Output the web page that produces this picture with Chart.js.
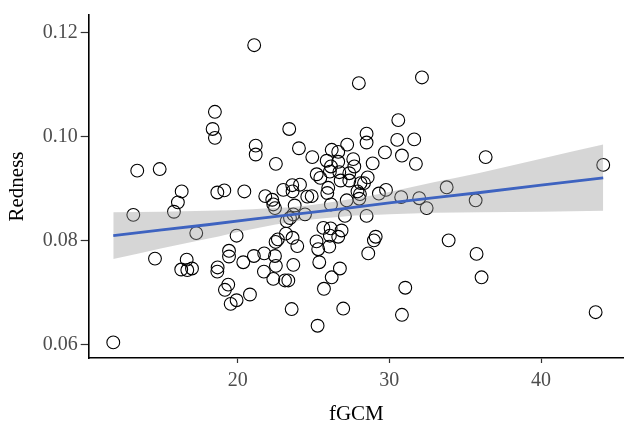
<!DOCTYPE html>
<html>
<head>
<meta charset="utf-8">
<script src="https://cdn.jsdelivr.net/npm/chart.js@4"></script>
<style>
  html, body { margin: 0; padding: 0; background: #fff; overflow: hidden; }
  #wrap { width: 624px; height: 425px; position: relative; }
</style>
</head>
<body>
<div id="wrap"><canvas id="chart"></canvas></div>
<script>
'use strict';

/* ----------------------------------------------------------
   DATA
   ---------------------------------------------------------- */
const fgcm = [
  11.8, 13.12, 13.38, 14.55, 14.86, 15.80, 16.06, 16.31, 16.64, 16.28,
  16.68, 16.99, 17.27, 18.50, 18.35, 18.50, 18.66, 19.12, 18.68, 18.66,
  19.43, 19.43, 19.38, 19.16, 19.54, 19.93, 19.93, 20.37, 20.44, 20.81,
  21.09, 21.19, 21.19, 21.07, 21.75, 21.73, 21.82, 22.52, 22.28, 22.35,
  22.46, 22.46, 22.52, 22.35, 22.50, 22.65, 23.01, 23.40, 23.12, 23.34,
  23.18, 23.23, 23.45, 23.56, 23.60, 23.62, 23.62, 23.67, 23.76, 23.67,
  23.93, 24.04, 24.11, 24.44, 24.59, 24.92, 25.21, 25.45, 25.27, 25.20,
  25.31, 25.38, 25.69, 25.65, 25.87, 25.97, 25.91, 26.08, 26.15, 26.15,
  26.20, 26.63, 26.63, 26.70, 26.79, 26.13, 26.08, 26.04, 26.20, 26.74,
  26.96, 26.85, 26.63, 27.19, 27.07, 27.22, 27.36, 27.36, 27.62, 27.69,
  27.90, 28.06, 28.02, 27.99, 28.10, 28.33, 28.50, 28.50, 28.57, 28.50,
  28.61, 28.98, 29.10, 28.90, 29.31, 29.71, 29.78, 30.52, 30.59, 30.83,
  30.78, 31.05, 30.83, 31.64, 31.75, 31.97, 32.15, 32.46, 33.78, 33.91,
  35.69, 35.75, 36.08, 36.35, 43.60, 44.10, 24.88
];
const redness = [
  0.0605, 0.0850, 0.0935, 0.0766, 0.0938, 0.0856, 0.0874, 0.0895, 0.0764, 0.0745,
  0.0744, 0.0747, 0.0815, 0.1048, 0.1015, 0.0998, 0.0893, 0.0897, 0.0749, 0.0741,
  0.0781, 0.0770, 0.0716, 0.0706, 0.0679, 0.0686, 0.0810, 0.0759, 0.0895, 0.0697,
  0.1176, 0.0983, 0.0966, 0.0771, 0.0776, 0.0741, 0.0886, 0.0948, 0.0879, 0.0870,
  0.0863, 0.0771, 0.0752, 0.0727, 0.0798, 0.0803, 0.0898, 0.1015, 0.0724, 0.0724,
  0.0814, 0.0838, 0.0844, 0.0669, 0.0907, 0.0895, 0.0806, 0.0754, 0.0868, 0.0851,
  0.0790, 0.0978, 0.0908, 0.0851, 0.0885, 0.0961, 0.0928, 0.0921, 0.0637, 0.0799,
  0.0784, 0.0759, 0.0708, 0.0825, 0.0954, 0.0902, 0.0892, 0.0933, 0.0943, 0.0870,
  0.0975, 0.0971, 0.0952, 0.0932, 0.0916, 0.0824, 0.0810, 0.0789, 0.0730, 0.0747,
  0.0670, 0.0820, 0.0808, 0.0878, 0.0848, 0.0985, 0.0930, 0.0916, 0.0957, 0.0943,
  0.0895, 0.0890, 0.0881, 0.1103, 0.0911, 0.0911, 0.1006, 0.0989, 0.0922, 0.0848,
  0.0776, 0.0801, 0.0808, 0.0949, 0.0891, 0.0970, 0.0898, 0.0994, 0.1032, 0.0964,
  0.0884, 0.0710, 0.0658, 0.0995, 0.0948, 0.0882, 0.1114, 0.0863, 0.0903, 0.0801,
  0.0878, 0.0775, 0.0730, 0.0961, 0.0663, 0.0946, 0.0886
];

// fitted line and its confidence band
const fitX      = [11.8, 15, 18, 21, 24, 27, 30, 33, 36, 40, 44.1];
const fitY      = [0.0810, 0.0821, 0.0831, 0.0842, 0.0852, 0.0862, 0.0873, 0.0883, 0.0893, 0.0907, 0.0921];
const bandUpper = [0.0855, 0.0856, 0.0858, 0.0861, 0.0866, 0.0878, 0.0894, 0.0913, 0.0931, 0.0958, 0.0985];
const bandLower = [0.0765, 0.0786, 0.0804, 0.0823, 0.0838, 0.0847, 0.0851, 0.0854, 0.0855, 0.0856, 0.0858];

const xTicks = [20, 30, 40];
const yTicks = [0.06, 0.08, 0.10, 0.12];

/* ----------------------------------------------------------
   HELPERS
   ---------------------------------------------------------- */
const toPoints = (xs, ys) => xs.map((x, i) => ({ x, y: ys[i] }));

const SERIF = "'Liberation Serif', 'DejaVu Serif', serif";
const tickFont  = { family: SERIF, size: 20 };
const titleFont = { family: SERIF, size: 21, lineHeight: 1.0 };

/* ----------------------------------------------------------
   CHART
   ---------------------------------------------------------- */
const ctx = document.getElementById('chart').getContext('2d');

new Chart(ctx, {
  type: 'scatter',
  data: {
    datasets: [
      {
        // regression line, on top
        type: 'line',
        data: toPoints(fitX, fitY),
        borderColor: '#3e63c0',
        borderWidth: 2.8,
        pointRadius: 0,
        fill: false,
        order: 0,
      },
      {
        type: 'line',
        data: toPoints(fitX, bandUpper),
        borderWidth: 0,
        pointRadius: 0,
        cubicInterpolationMode: 'monotone',
        backgroundColor: 'rgba(153,153,153,0.4)',
        fill: '+1',
        order: 1,
      },
      {
        type: 'line',
        data: toPoints(fitX, bandLower),
        borderWidth: 0,
        pointRadius: 0,
        cubicInterpolationMode: 'monotone',
        fill: false,
        order: 1,
      },
      {
        data: toPoints(fgcm, redness),
        pointRadius: 6.4,
        pointBorderWidth: 1.1,
        pointBorderColor: '#000',
        pointBackgroundColor: 'rgba(0,0,0,0)',
        order: 2,
      },
    ]
  },
  options: {
    responsive: true,
    maintainAspectRatio: false,
    animation: false,
    layout: { autoPadding: false, padding: { top: 12, right: 0, bottom: 0, left: 0 } },
    plugins: {
      legend: { display: false },
      tooltip: { enabled: false },
    },
    scales: {
      x: {
        type: 'linear',
        min: 10.18,
        max: 45.47,
        afterBuildTicks: s => { s.ticks = xTicks.map(v => ({ value: v })); },
        afterFit: s => { s.height = 67; },
        ticks: { font: tickFont, color: '#4d4d4d', padding: 6 },
        grid: { display: true, drawOnChartArea: false, drawTicks: true, tickLength: 5, tickColor: '#333', tickWidth: 1.2 },
        border: { display: true, color: '#000', width: 1.6 },
        title: { display: true, text: 'fGCM', font: titleFont, color: '#000', padding: { top: 0, bottom: 0 } },
      },
      y: {
        type: 'linear',
        min: 0.0575,
        max: 0.1234,
        afterBuildTicks: s => { s.ticks = yTicks.map(v => ({ value: v })); },
        afterFit: s => { s.width = 88.7; },
        ticks: { font: tickFont, color: '#4d4d4d', padding: 3, callback: v => v.toFixed(2) },
        grid: { display: true, drawOnChartArea: false, drawTicks: true, tickLength: 8, tickColor: '#333', tickWidth: 1.2 },
        border: { display: true, color: '#000', width: 1.6 },
        title: { display: true, text: 'Redness', font: titleFont, color: '#000', padding: { top: 7, bottom: 0 } },
      }
    }
  }
});
</script>
</body>
</html>
